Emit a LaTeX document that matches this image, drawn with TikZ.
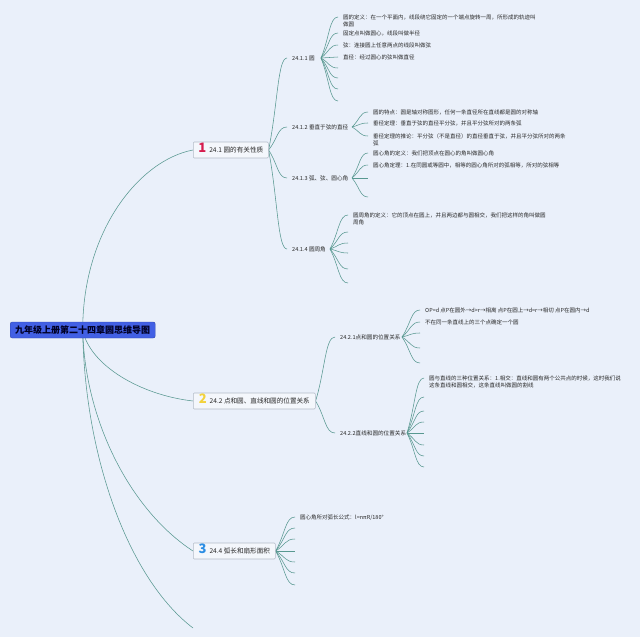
\documentclass[tikz,border=0pt]{standalone}
\usepackage{fontspec}
\newfontfamily\cjk{Noto Sans CJK SC}
\usetikzlibrary{calc}
\pgfdeclarelayer{back}
\pgfdeclarelayer{lines}
\pgfsetlayers{back,lines,main}
\definecolor{bgc}{RGB}{234,240,250}
\definecolor{conn}{RGB}{88,152,144}
\definecolor{rootfill}{RGB}{66,96,228}
\definecolor{boxfill}{RGB}{244,247,252}
\definecolor{boxline}{RGB}{180,188,200}
\definecolor{numone}{RGB}{214,28,78}
\definecolor{numtwo}{RGB}{242,210,60}
\definecolor{numthree}{RGB}{44,142,228}
\definecolor{txt}{RGB}{40,40,40}
\newcommand\bignum[2]{\smash{\textcolor{#1}{\bfseries\fontsize{13}{13}\selectfont #2}}}
\tikzset{
 link/.style={draw=conn, line width=0.55pt},
 fanto/.style={to path={let \p1=(\tikztostart), \p2=(\tikztotarget) in
   .. controls ({(\x1+\x2)/2},{(\y1+\y2)/2}) and ({(\x1+\x2)/2},\y2) .. (\p2)}},
 rootbox/.style={fill=rootfill, draw=rootfill!75!black, rounded corners=2pt,
   font=\cjk\bfseries\fontsize{9}{10}\selectfont, text=black!85!blue,
   inner xsep=5pt, inner ysep=0pt, minimum height=16pt, anchor=west},
 topicbox/.style={fill=boxfill, draw=boxline, line width=0.6pt, rounded corners=1pt,
   minimum height=16pt, inner xsep=4pt, inner ysep=0pt,
   font=\cjk\fontsize{6.6}{8}\selectfont, text=txt, anchor=west},
 subtopic/.style={font=\cjk\fontsize{5.6}{7}\selectfont, text=txt, anchor=west,
   inner xsep=5pt, inner ysep=1pt},
 leaf/.style={font=\cjk\fontsize{5.5}{7.7}\selectfont, text=txt, anchor=base west,
   inner sep=0pt, align=left},
 leaftwo/.style={leaf, anchor=north west},
}
\begin{document}
\begin{tikzpicture}[x=1pt,y=-1pt]
\begin{pgfonlayer}{back}
\fill[bgc] (0,0) rectangle (640,637);
\end{pgfonlayer}

% root and main topics
\node[rootbox] (root) at (10,330) {九年级上册第二十四章圆思维导图};
\node[topicbox, minimum width=75pt] (t1) at (193,150) {\bignum{numone}{1}\hspace{3pt}24.1 圆的有关性质};
\node[topicbox, minimum width=122pt] (t2) at (193,401) {\bignum{numtwo}{2}\hspace{3pt}24.2 点和圆、直线和圆的位置关系};
\node[topicbox, minimum width=82pt] (t3) at (193,551) {\bignum{numthree}{3}\hspace{3pt}24.4 弧长和扇形面积};
\coordinate (tail) at (193,628);

% sub topics
\node[subtopic] (s11) at (287,58) {24.1.1 圆};
\node[subtopic] (s12) at (287,127) {24.1.2 垂直于弦的直径};
\node[subtopic] (s13) at (287,178) {24.1.3 弧、弦、圆心角};
\node[subtopic] (s14) at (287,249) {24.1.4 圆周角};
\node[subtopic] (s21) at (335,337) {24.2.1点和圆的位置关系};
\node[subtopic] (s22) at (335,433) {24.2.2直线和圆的位置关系};

% fan origins
\coordinate (o11) at (321,58);
\coordinate (o12) at (352,127);
\coordinate (o13) at (352,178);
\coordinate (o14) at (330,249);
\coordinate (o21) at (402,337);
\coordinate (o22) at (407,433);

% branch ends
\foreach \i/\yy in {a/17,b/33,c/45,d/57,e/68,f/78,g/89,h/101} \coordinate (e11\i) at (338,\yy);
\foreach \i/\yy in {a/112,b/123,c/136} \coordinate (e12\i) at (368,\yy);
\foreach \i/\yy in {a/153,b/165,c/178,d/197} \coordinate (e13\i) at (368,\yy);
\foreach \i/\yy in {a/215,b/232,c/243,d/253,e/269,f/283} \coordinate (e14\i) at (348,\yy);
\foreach \i/\yy in {a/310,b/322,c/333,d/348,e/363} \coordinate (e21\i) at (420,\yy);
\foreach \i/\yy in {a/378,b/397,c/411,d/422,e/433,f/445,g/456,h/467} \coordinate (e22\i) at (424,\yy);
\foreach \i/\yy in {a/517,b/528,c/539,d/551,e/562,f/573,g/585} \coordinate (e3\i) at (295,\yy);

% leaf texts
\node[leaftwo] (l11a) at ([shift={(5pt,2.8pt)}]e11a) {圆的定义：在一个平面内，线段绕它固定的一个端点旋转一周，所形成的轨迹叫\\做圆};
\node[leaf] (l11b) at ([shift={(5pt,-2pt)}]e11b) {固定点叫做圆心，线段叫做半径};
\node[leaf] (l11c) at ([shift={(5pt,-2pt)}]e11c) {弦：连接圆上任意两点的线段叫做弦};
\node[leaf] (l11d) at ([shift={(5pt,-2pt)}]e11d) {直径：经过圆心的弦叫做直径};
\node[leaf] (l12a) at ([shift={(5pt,-2pt)}]e12a) {圆的特点：圆是轴对称图形，任何一条直径所在直线都是圆的对称轴};
\node[leaf] (l12b) at ([shift={(5pt,-2pt)}]e12b) {垂径定理：垂直于弦的直径平分弦，并且平分弦所对的两条弧};
\node[leaftwo] (l12c) at ([shift={(5pt,2.8pt)}]e12c) {垂径定理的推论：平分弦（不是直径）的直径垂直于弦，并且平分弦所对的两条\\弧};
\node[leaf] (l13a) at ([shift={(5pt,-2pt)}]e13a) {圆心角的定义：我们把顶点在圆心的角叫做圆心角};
\node[leaf] (l13b) at ([shift={(5pt,-2pt)}]e13b) {圆心角定理：1.在同圆或等圆中，相等的圆心角所对的弧相等，所对的弦相等};
\node[leaftwo] (l14a) at ([shift={(5pt,2.8pt)}]e14a) {圆周角的定义：它的顶点在圆上，并且两边都与圆相交，我们把这样的角叫做圆\\周角};
\node[leaf] (l21a) at ([shift={(5pt,-2pt)}]e21a) {OP=d 点P在圆外→d>r→相离 点P在圆上→d=r→相切 点P在圆内→d};
\node[leaf] (l21b) at ([shift={(5pt,-2pt)}]e21b) {不在同一条直线上的三个点确定一个圆};
\node[leaftwo] (l22a) at ([shift={(5pt,2.8pt)}]e22a) {圆与直线的三种位置关系：1.相交：直线和圆有两个公共点的时候，这时我们说\\这条直线和圆相交，这条直线叫做圆的割线};
\node[leaf] (l3a) at ([shift={(5pt,-2pt)}]e3a) {圆心角所对弧长公式：l=nπR/180°};

\begin{pgfonlayer}{lines}
% root connectors
\draw[link] (root.center) .. controls +(0,-100) and +(-53,10) .. (t1.west);
\draw[link] (root.center) .. controls +(7,35) and +(-53,-6) .. (t2.west);
\draw[link] (root.center) .. controls +(2,90) and +(-63,-41) .. (t3.west);
\draw[link] (root.center) .. controls +(2,130) and +(-63,-48) .. (tail);
% topic to sub topic
\foreach \s in {s11,s12,s13,s14} \draw[link] (t1.east) to[fanto] (\s.west);
\foreach \s in {s21,s22} \draw[link] (t2.east) to[fanto] (\s.west);
% fans
\foreach \i in {a,b,c,d,e,f,g,h} \draw[link] (o11) to[fanto] (e11\i);
\foreach \i in {a,b,c} \draw[link] (o12) to[fanto] (e12\i);
\foreach \i in {a,b,c,d} \draw[link] (o13) to[fanto] (e13\i);
\foreach \i in {a,b,c,d,e,f} \draw[link] (o14) to[fanto] (e14\i);
\foreach \i in {a,b,c,d,e} \draw[link] (o21) to[fanto] (e21\i);
\foreach \i in {a,b,c,d,e,f,g,h} \draw[link] (o22) to[fanto] (e22\i);
\foreach \i in {a,b,c,d,e,f,g} \draw[link] (t3.east) to[fanto] (e3\i);
\end{pgfonlayer}
\end{tikzpicture}
\end{document}
